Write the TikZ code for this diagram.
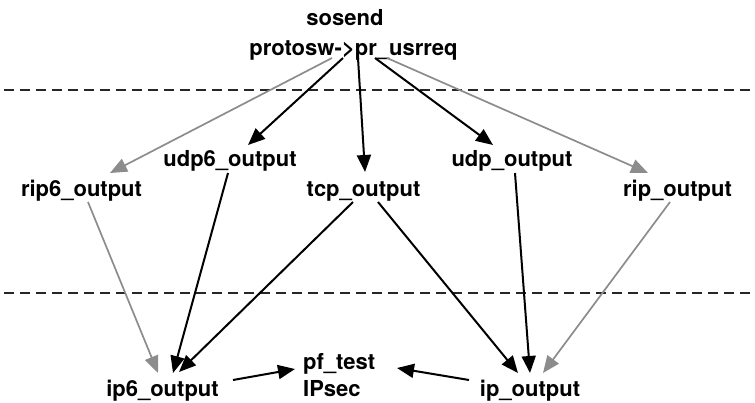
\documentclass[tikz,border=0pt]{standalone}
\usepackage{fontspec}
\setmainfont{TeX Gyre Heros}
\usetikzlibrary{arrows.meta,calc}
\definecolor{arrgray}{HTML}{8C8C8C}
\tikzset{
  lbl/.style={inner sep=0pt, anchor=base, font=\fontsize{22}{27}\selectfont\bfseries},
  blk/.style={draw=black, line width=2pt, -{Triangle[length=17pt,width=14pt]}},
  gry/.style={draw=arrgray, line width=1.7pt, -{Triangle[length=17pt,width=14pt]}},
  sep/.style={draw=black!85, line width=1.7pt, dash pattern=on 9.5pt off 6.5pt}
}
\begin{document}
\begin{tikzpicture}[x=1pt,y=-1pt]
\useasboundingbox (0,0) rectangle (755,402);
% separators
\coordinate (l1a) at (4,90); \coordinate (l1b) at (755,90);
\coordinate (l2a) at (4,293); \coordinate (l2b) at (755,293);
\draw[sep] (l1a) -- (l1b);
\draw[sep] (l2a) -- (l2b);
% nodes
\node[lbl] (sosend) at (345,25) {sosend};
\node[lbl] (proto) at (353.5,55) {protosw->pr\_usrreq};
\node[lbl] (udp6) at (230,166) {udp6\_output};
\node[lbl] (udp) at (512,166) {udp\_output};
\node[lbl] (rip6) at (81.5,196) {rip6\_output};
\node[lbl] (tcp) at (363.5,196) {tcp\_output};
\node[lbl] (rip) at (677.5,196) {rip\_output};
\node[lbl] (ip6) at (162.5,396) {ip6\_output};
\node[lbl] (ip) at (530,396) {ip\_output};
\node[lbl, anchor=base west, align=left] (pf) at (303,396) {pf\_test\\IPsec};
% upper arrows
\draw[gry] ($(proto.base)+(-21.5,3)$) -- ($(rip6.base)+(28.5,-23)$);
\draw[blk] ($(proto.base)+(-10.5,3)$) -- ($(udp6.base)+(18,-21)$);
\draw[blk] ($(proto.base)+(4.5,3)$) -- ($(tcp.base)+(1.5,-24)$);
\draw[blk] ($(proto.base)+(21.5,3)$) -- ($(udp.base)+(-19,-21)$);
\draw[gry] ($(proto.base)+(33.5,3)$) -- ($(rip.base)+(-29.5,-23)$);
% lower arrows
\draw[gry] ($(rip6.base)+(6.5,6)$) -- ($(ip6.base)+(-4.5,-23)$);
\draw[blk] ($(udp6.base)+(-2,7)$) -- ($(ip6.base)+(10.5,-23)$);
\draw[blk] ($(tcp.base)+(-10.5,6)$) -- ($(ip6.base)+(16.5,-24)$);
\draw[blk] ($(tcp.base)+(14.5,6)$) -- ($(ip.base)+(-12,-23)$);
\draw[blk] ($(udp.base)+(3,7)$) -- ($(ip.base)+(0,-23)$);
\draw[gry] ($(rip.base)+(-7.5,6)$) -- ($(ip.base)+(13,-23)$);
% to pf_test
\draw[blk] ($(ip6.base)+(70.5,-16)$) -- ($(pf.base west)+(-8,-27)$);
\draw[blk] ($(ip.base)+(-61,-16)$) -- ($(pf.base west)+(94,-28)$);
\end{tikzpicture}
\end{document}
